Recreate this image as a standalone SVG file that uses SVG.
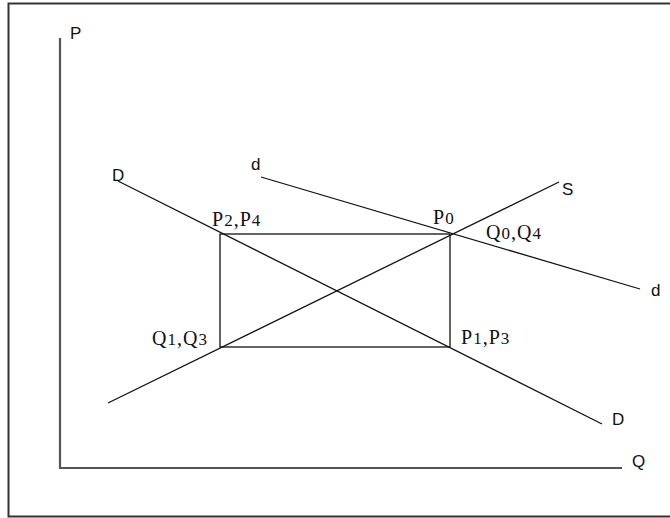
<svg xmlns="http://www.w3.org/2000/svg" width="670" height="518" viewBox="0 0 670 518">
<style>
.frame{fill:none;stroke:#333;stroke-width:2}
.axis{fill:none;stroke:#555;stroke-width:2.2}
.ln{fill:none;stroke:#111;stroke-width:1.3}
.sans{font-family:"Liberation Sans",Arial,sans-serif;font-size:17px;fill:#111}
.serif{font-family:"Liberation Serif","Times New Roman",serif;font-size:20px;letter-spacing:1px;fill:#111}
.sub{font-size:17px}
</style>
<rect width="670" height="518" fill="#fff"/>
<rect class="frame" x="8.5" y="3.5" width="670" height="513"/>
<g id="axes">
<polyline class="axis" points="60,38 60,468 622,468"/>
<text class="sans" x="70" y="39">P</text>
<text class="sans" x="632" y="467">Q</text>
</g>
<g id="connectors">
<line id="curve-D" class="ln" x1="118" y1="181" x2="602" y2="424"/>
<line id="curve-S" class="ln" x1="108" y1="403" x2="559" y2="182"/>
<line id="curve-d" class="ln" x1="261" y1="177" x2="640" y2="289"/>
<rect id="box" class="ln" x="220" y="234" width="230" height="113"/>
</g>
<g id="label-D1"><text class="sans" x="112" y="181">D</text></g>
<g id="label-D2"><text class="sans" x="612" y="425">D</text></g>
<g id="label-S"><text class="sans" x="562" y="195">S</text></g>
<g id="label-d1"><text class="sans" x="251" y="170">d</text></g>
<g id="label-d2"><text class="sans" x="651" y="296">d</text></g>
<g id="node-P2P4"><text class="serif" x="212" y="226">P<tspan class="sub">2</tspan>,P<tspan class="sub">4</tspan></text></g>
<g id="node-P0"><text class="serif" x="433" y="224">P<tspan class="sub">0</tspan></text></g>
<g id="node-Q0Q4"><text class="serif" x="486" y="239">Q<tspan class="sub">0</tspan>,Q<tspan class="sub">4</tspan></text></g>
<g id="node-Q1Q3"><text class="serif" x="152" y="345">Q<tspan class="sub">1</tspan>,Q<tspan class="sub">3</tspan></text></g>
<g id="node-P1P3"><text class="serif" x="461" y="344">P<tspan class="sub">1</tspan>,P<tspan class="sub">3</tspan></text></g>
</svg>
